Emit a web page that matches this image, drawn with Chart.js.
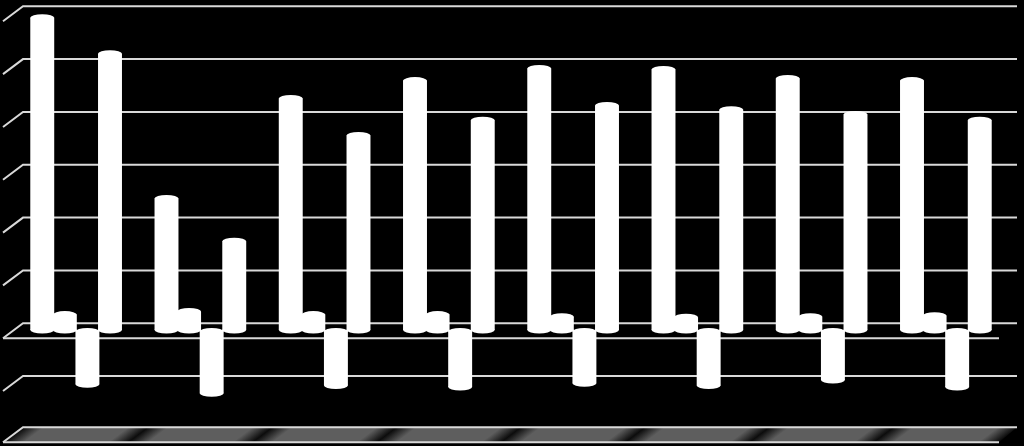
<!DOCTYPE html>
<html>
<head>
<meta charset="utf-8">
<title>Chart</title>
<script src="https://cdn.jsdelivr.net/npm/chart.js@4"></script>
<style>
  html, body { margin: 0; padding: 0; background: #000; }
  canvas { display: block; }
</style>
</head>
<body>
<canvas id="barChart" width="1024" height="446"></canvas>
<script>
const categories = ['1', '2', '3', '4', '5', '6', '7', '8'];
const series1 = [59.1, 24.9, 43.8, 47.2, 49.5, 49.3, 47.6, 47.2];
const series2 = [2.9, 3.5, 2.9, 2.9, 2.5, 2.4, 2.5, 2.7];
const series3 = [-10.3, -12, -10.5, -10.8, -10.1, -10.5, -9.5, -10.8];
const series4 = [52.3, 16.8, 36.8, 39.7, 42.5, 41.7, 40.8, 39.7];
const gridValues = [-10, 0, 10, 20, 30, 40, 50, 60];
const floorValue = -19.7;

const lineColor = '#d9d9d9';

// fake 3d: walls and floor sit behind the bars
const fake3d = {
  id: 'fake3d',
  beforeDatasetsDraw(chart) {
    const { ctx, chartArea, scales } = chart;
    const backL = chartArea.left + 9;
    const backR = chartArea.right + 9;
    const frontL = chartArea.left - 11;
    const frontR = chartArea.right - 9;
    const up = 6.7;
    const down = 8.3;

    // floor, sheared so the dark streaks between categories lean with its edge
    const floorY = scales.y.getPixelForValue(floorValue);
    const top = floorY - up;
    const bottom = floorY + down;
    ctx.save();
    const shear = (backL - frontL) / (bottom - top);
    ctx.beginPath();
    ctx.moveTo(frontL, bottom);
    ctx.lineTo(backL, top);
    ctx.lineTo(backR, top);
    ctx.lineTo(frontR, bottom);
    ctx.closePath();
    ctx.clip();
    ctx.transform(1, 0, -shear, 1, shear * bottom, 0);
    const left = chartArea.left - 10;
    const right = chartArea.right - 10;
    const grad = ctx.createLinearGradient(left, 0, right, 0);
    const n = categories.length;
    const soft = 0.16 / n;
    for (let i = 0; i < n; i++) {
      grad.addColorStop(i / n, '#0c0c0c');
      grad.addColorStop(i / n + soft, '#5e5e5e');
      grad.addColorStop((i + 1) / n - soft, '#5e5e5e');
    }
    grad.addColorStop(1, '#0c0c0c');
    ctx.fillStyle = grad;
    ctx.fillRect(left - 40, top, right - left + 80, bottom - top);
    ctx.restore();

    ctx.save();
    ctx.strokeStyle = lineColor;
    ctx.lineWidth = 2;
    gridValues.concat(floorValue).forEach((v) => {
      const y = scales.y.getPixelForValue(v);
      ctx.beginPath();
      ctx.moveTo(frontL, y + down);
      ctx.lineTo(backL, y - up);
      ctx.lineTo(backR, y - up);
      ctx.stroke();
      if (v === 0 || v === floorValue) {
        ctx.beginPath();
        ctx.moveTo(frontL, y + down);
        ctx.lineTo(frontR, y + down);
        ctx.stroke();
      }
    });
    ctx.restore();
  },
  // cylinder caps on each bar
  afterDatasetsDraw(chart) {
    const { ctx } = chart;
    ctx.save();
    ctx.fillStyle = '#ffffff';
    chart.getSortedVisibleDatasetMetas().forEach((meta) => {
      meta.data.forEach((bar) => {
        const rx = bar.width / 2;
        // bars below zero start a little lower than the others end
        const baseY = bar.y > bar.base ? bar.base + 1.5 : bar.base;
        [bar.y, baseY].forEach((y) => {
          ctx.beginPath();
          ctx.ellipse(bar.x, y, rx, 3.5, 0, 0, Math.PI * 2);
          ctx.fill();
        });
      });
    });
    ctx.restore();
  },
};

new Chart(document.getElementById('barChart').getContext('2d'), {
  type: 'bar',
  data: {
    labels: categories,
    datasets: [series1, series2, series3, series4].map((values, i) => ({
      label: 'Series ' + (i + 1),
      data: values,
      backgroundColor: '#ffffff',
      borderWidth: 0,
      categoryPercentage: 0.727,
      barPercentage: 1.06,
    })),
  },
  plugins: [fake3d],
  options: {
    responsive: false,
    animation: false,
    layout: { padding: { left: 14, right: 16, top: 13, bottom: 12 } },
    plugins: { legend: { display: false }, tooltip: { enabled: false } },
    scales: {
      x: { display: false },
      y: { display: false, min: floorValue, max: 60 },
    },
  },
});
</script>
</body>
</html>
